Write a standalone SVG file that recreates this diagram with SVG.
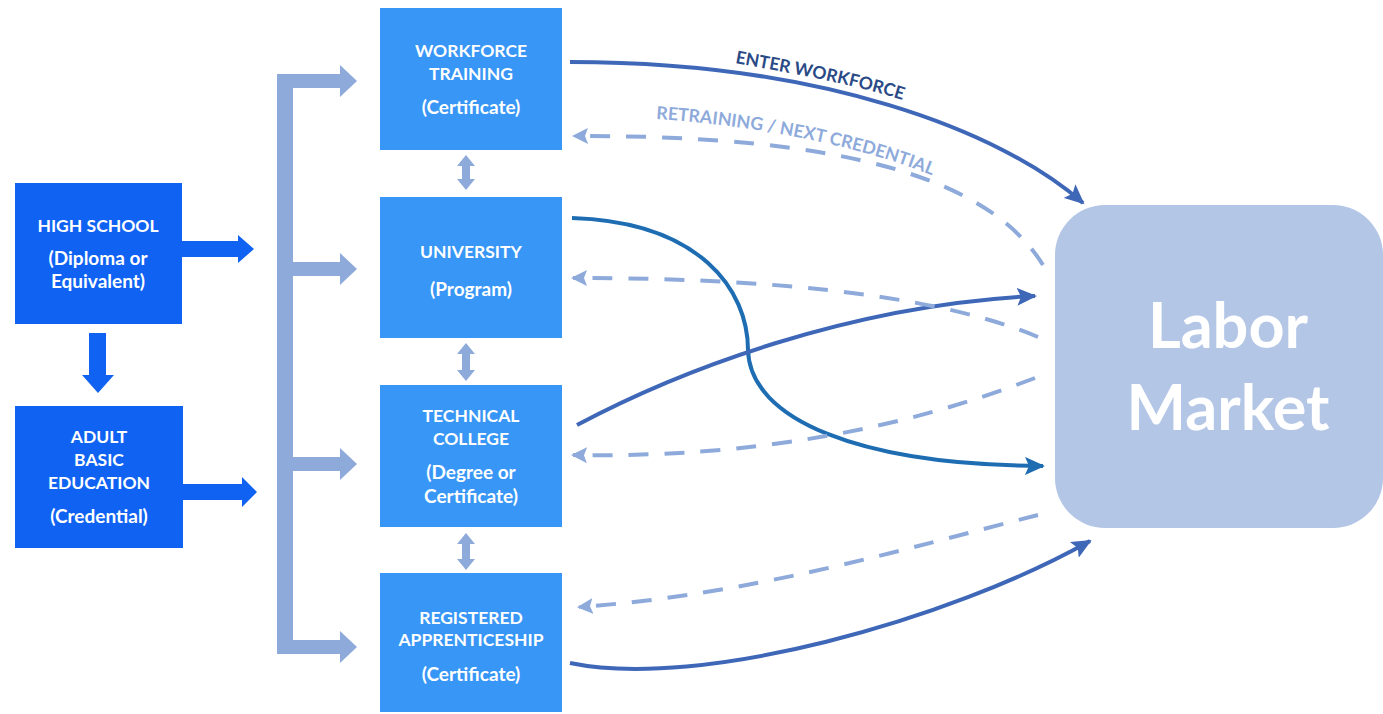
<svg xmlns="http://www.w3.org/2000/svg" width="1383" height="714" viewBox="0 0 1383 714">
<style>
  .lbox { fill: #0f62f2; }
  .mbox { fill: #3796f6; }
  .lm { fill: #b3c6e6; }
  .t { font-family: Lato, "Liberation Sans", sans-serif; font-weight: bold; fill: #ffffff; text-anchor: middle; }
  .caps { font-size: 17.5px; }
  .par { font-size: 19px; }
  .big { font-family: Lato, "Liberation Sans", sans-serif; font-weight: bold; font-size: 63px; fill: #ffffff; text-anchor: middle; }
  .br { fill: #8eaadb; }
  .bluearrow { fill: #0f62f2; }
  .solid { fill: none; stroke: #3f67b8; stroke-width: 4; }
  .solid2 { fill: none; stroke: #1e6db3; stroke-width: 4; }
  .dash { fill: none; stroke: #8eaadb; stroke-width: 4; stroke-dasharray: 20 16; }
  .lab1 { font-family: Lato, "Liberation Sans", sans-serif; font-weight: bold; font-size: 17.5px; fill: #2a4a86; }
  .lab2 { font-family: Lato, "Liberation Sans", sans-serif; font-weight: bold; font-size: 17.8px; fill: #8eaadb; }
</style>
<defs>
  <marker id="ahS" markerUnits="userSpaceOnUse" markerWidth="22" markerHeight="18" refX="18" refY="9" orient="auto">
    <path d="M0,0 L20,9 L0,18 L4,9 z" fill="#3f67b8"/>
  </marker>
  <marker id="ahU" markerUnits="userSpaceOnUse" markerWidth="22" markerHeight="18" refX="18" refY="9" orient="auto">
    <path d="M0,0 L20,9 L0,18 L4,9 z" fill="#1e6db3"/>
  </marker>
  <marker id="ahD" markerUnits="userSpaceOnUse" markerWidth="18" markerHeight="16" refX="14" refY="8" orient="auto">
    <path d="M0,0 L16,8 L0,16 L3,8 z" fill="#8eaadb"/>
  </marker>
  <path id="tp1" d="M735,63 C790,73 860,85 915,104"/>
  <path id="tp2" d="M656,119 C740,124 860,143 945,181"/>
</defs>

<g id="connectors">
  <!-- left blue arrows -->
  <polygon class="bluearrow" points="182,241 238,241 238,235 254,249 238,263 238,257 182,257"/>
  <polygon class="bluearrow" points="183,484 242,484 242,477 257,492 242,507 242,500 183,500"/>
  <polygon class="bluearrow" points="89,333 106,333 106,375 114,375 98,393 82,375 89,375"/>
  <!-- bracket -->
  <g class="br">
    <rect x="277" y="74" width="16" height="580"/>
    <rect x="277" y="74" width="64" height="14"/>
    <polygon points="340,65 357,81 340,97"/>
    <rect x="285" y="262" width="56" height="14"/>
    <polygon points="340,253 357,269 340,285"/>
    <rect x="285" y="457" width="56" height="14"/>
    <polygon points="340,448 357,464 340,480"/>
    <rect x="277" y="640" width="64" height="14"/>
    <polygon points="340,631 357,647 340,663"/>
  </g>
  <!-- double arrows -->
  <g class="br">
    <polygon points="466,155 475,166 470,166 470,179 475,179 466,190 457,179 462,179 462,166 457,166"/>
    <polygon points="466,343 475,354 470,354 470,370 475,370 466,381 457,370 462,370 462,354 457,354"/>
    <polygon points="466,533 475,544 470,544 470,559 475,559 466,570 457,559 462,559 462,544 457,544"/>
  </g>
  <!-- outgoing solid -->
  <path class="solid" d="M570,62 C820,62 1000,130 1083,203" marker-end="url(#ahS)"/>
  <path class="solid2" d="M572,218 C700,222 748,290 748,350 C750,420 860,465 1043,466" marker-end="url(#ahU)"/>
  <path class="solid" d="M577,425 C680,370 850,305 1035,296" marker-end="url(#ahS)"/>
  <path class="solid" d="M570,663 C700,690 950,620 1090,541" marker-end="url(#ahS)"/>
  <!-- return dashed -->
  <path class="dash" d="M1043,265 C990,180 850,135 574,136" marker-end="url(#ahD)"/>
  <path class="dash" d="M1038,337 C950,300 800,278 573,278" marker-end="url(#ahD)"/>
  <path class="dash" d="M1035,378 C900,430 750,458 573,455" marker-end="url(#ahD)"/>
  <path class="dash" d="M1038,515 C900,550 750,595 579,607" marker-end="url(#ahD)"/>
  <!-- labels -->
  <text class="lab1"><textPath href="#tp1">ENTER WORKFORCE</textPath></text>
  <text class="lab2"><textPath href="#tp2">RETRAINING / NEXT CREDENTIAL</textPath></text>
</g>

<g id="high-school">
  <rect class="lbox" x="15" y="183" width="167" height="141"/>
  <text class="t caps" x="98" y="232">HIGH SCHOOL</text>
  <text class="t par" x="98" y="265">(Diploma or</text>
  <text class="t par" x="98" y="288">Equivalent)</text>
</g>
<g id="adult-basic-education">
  <rect class="lbox" x="15" y="406" width="168" height="142"/>
  <text class="t caps" x="99" y="443">ADULT</text>
  <text class="t caps" x="99" y="466">BASIC</text>
  <text class="t caps" x="99" y="489">EDUCATION</text>
  <text class="t par" x="99" y="523">(Credential)</text>
</g>
<g id="workforce-training">
  <rect class="mbox" x="380" y="8" width="182" height="142"/>
  <text class="t caps" x="471" y="57">WORKFORCE</text>
  <text class="t caps" x="471" y="80">TRAINING</text>
  <text class="t par" x="471" y="114">(Certificate)</text>
</g>
<g id="university">
  <rect class="mbox" x="380" y="197" width="182" height="141"/>
  <text class="t caps" x="471" y="258">UNIVERSITY</text>
  <text class="t par" x="471" y="296">(Program)</text>
</g>
<g id="technical-college">
  <rect class="mbox" x="380" y="385" width="182" height="142"/>
  <text class="t caps" x="471" y="422">TECHNICAL</text>
  <text class="t caps" x="471" y="445">COLLEGE</text>
  <text class="t par" x="471" y="479">(Degree or</text>
  <text class="t par" x="471" y="503">Certificate)</text>
</g>
<g id="registered-apprenticeship">
  <rect class="mbox" x="380" y="573" width="182" height="139"/>
  <text class="t caps" x="471" y="624">REGISTERED</text>
  <text class="t caps" x="471" y="646">APPRENTICESHIP</text>
  <text class="t par" x="471" y="681">(Certificate)</text>
</g>
<g id="labor-market">
  <rect class="lm" x="1055" y="205" width="328" height="323" rx="50"/>
  <text class="big" x="1228" y="348">Labor</text>
  <text class="big" x="1228" y="430">Market</text>
</g>
</svg>
